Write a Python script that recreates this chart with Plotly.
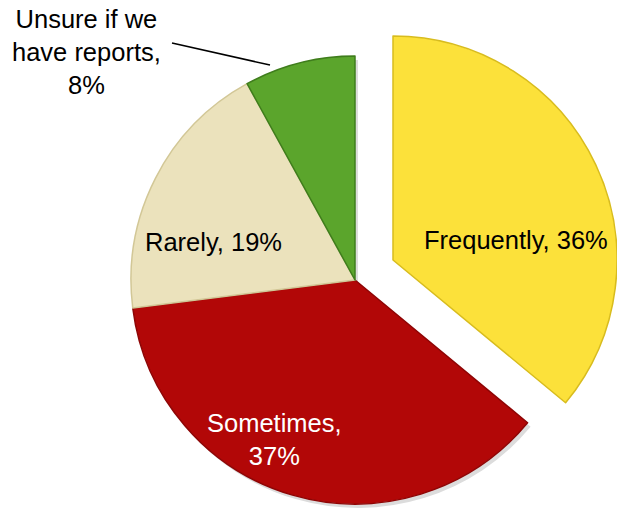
import plotly.graph_objects as go

# ---- data ----
categories = ["Frequently", "Sometimes", "Rarely", "Unsure if we have reports"]
values = [36, 37, 19, 8]
colors = ["#FCE13A", "#B20707", "#EBE2BC", "#5BA52C"]
edge_colors = ["#D8BC1E", "#8E0505", "#D2C796", "#3F7D1C"]
label_text = ["Frequently, 36%", "Sometimes,<br>37%", "Rarely, 19%", "Unsure if we<br>have reports,<br>8%"]
label_colors = ["#000000", "#FFFFFF", "#000000", "#000000"]

W, H = 617, 512
FONT = "Arial, Liberation Sans, sans-serif"


def px(x):
    return x / W


def py(y):
    return 1 - y / H


R = 224
main_c = (355, 280)
pulled_c = (393, 260)
shadow_off = (3, 4)
transparent = "rgba(0,0,0,0)"
shadow_col = "#DCDCDC"


def dom(c, dx=0, dy=0):
    cx, cy = c[0] + dx, c[1] + dy
    return dict(x=[max(0, px(cx - R)), min(1, px(cx + R))], y=[py(cy + R), py(cy - R)])


fig = go.Figure()
rest = sum(values) - values[0]

# soft shadows behind slices
fig.add_trace(go.Pie(
    labels=categories, values=values, sort=False, direction="clockwise", rotation=0,
    marker=dict(colors=[transparent] + [shadow_col] * 3, line=dict(width=0)),
    textinfo="none", hoverinfo="skip", domain=dom(main_c, *shadow_off), showlegend=False,
))

# remaining slices (Frequently left transparent; drawn pulled-out below)
fig.add_trace(go.Pie(
    labels=categories, values=values, sort=False, direction="clockwise", rotation=0,
    marker=dict(colors=[transparent] + colors[1:],
                line=dict(color=[transparent] + edge_colors[1:], width=1.5)),
    textinfo="none", hoverinfo="label+percent", domain=dom(main_c), showlegend=False,
))

# pulled-out Frequently slice
fig.add_trace(go.Pie(
    labels=[categories[0], "other"], values=[values[0], rest], sort=False,
    direction="clockwise", rotation=0,
    marker=dict(colors=[colors[0], transparent], line=dict(color=[edge_colors[0], transparent], width=1.5)),
    textinfo="none", hoverinfo="skip", domain=dom(pulled_c), showlegend=False,
))

label_pos = [(516, 240), (274, 439), (213, 242), (87, 52)]
annotations = []
for t, (x, y), col in zip(label_text, label_pos, label_colors):
    annotations.append(dict(text=t, x=px(x), y=py(y), xref="paper", yref="paper",
                            showarrow=False, xanchor="center", yanchor="middle",
                            font=dict(family=FONT, size=25.5, color=col), align="center"))

fig.update_layout(
    width=W, height=H, margin=dict(l=0, r=0, t=0, b=0),
    paper_bgcolor="white", plot_bgcolor="white",
    annotations=annotations,
    shapes=[dict(type="line", xref="paper", yref="paper",
                 x0=px(172), y0=py(43), x1=px(270), y1=py(65),
                 line=dict(color="black", width=1.5))],
)

fig.write_html("out.html")
